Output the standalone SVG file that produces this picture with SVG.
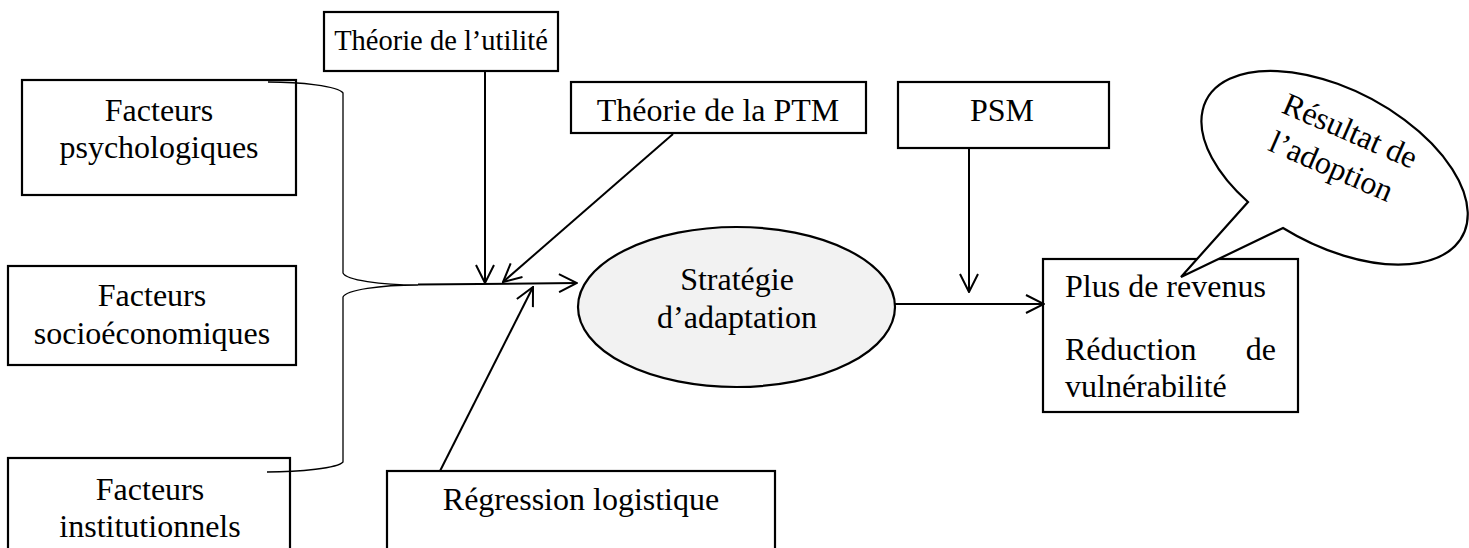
<svg xmlns="http://www.w3.org/2000/svg" width="1469" height="548" viewBox="0 0 1469 548">
<style>
text{font-family:"Liberation Serif","Times New Roman",serif;font-size:32px;fill:#000}
.box{fill:#fff;stroke:#000;stroke-width:2.2}
.c{text-anchor:middle}
.ln{fill:none;stroke:#000;stroke-width:2}
.brace{fill:none;stroke:#000;stroke-width:1.3}
</style>
<defs>
<marker id="arr" viewBox="0 0 20 20" refX="19" refY="10" markerWidth="20" markerHeight="20" markerUnits="userSpaceOnUse" orient="auto">
<path d="M1,1 L19,10 L1,19" fill="none" stroke="#000" stroke-width="2"/>
</marker>
</defs>
<rect width="1469" height="548" fill="#fff"/>
<g id="n-psycho"><rect class="box" x="22" y="80" width="274" height="115"/><text class="c" x="159" y="121">Facteurs</text><text class="c" x="159" y="158">psychologiques</text></g>
<g id="n-socio"><rect class="box" x="8" y="266" width="288" height="99"/><text class="c" x="152" y="306">Facteurs</text><text class="c" x="152" y="344">socioéconomiques</text></g>
<g id="n-instit"><rect class="box" x="8" y="458" width="282" height="110"/><text class="c" x="150" y="500">Facteurs</text><text class="c" x="150" y="537">institutionnels</text></g>
<g id="n-utilite"><rect class="box" x="324" y="12" width="234" height="59"/><text class="c" x="441" y="50" style="font-size:28.5px">Théorie de l’utilité</text></g>
<g id="n-ptm"><rect class="box" x="571" y="82" width="295" height="51"/><text class="c" x="718" y="121">Théorie de la PTM</text></g>
<g id="n-psm"><rect class="box" x="898" y="82" width="211" height="66"/><text class="c" x="1002" y="121">PSM</text></g>
<g id="n-regression"><rect class="box" x="387" y="471" width="388" height="100"/><text class="c" x="581" y="510">Régression logistique</text></g>
<g id="n-strategie"><ellipse cx="736.5" cy="307" rx="158.5" ry="80" fill="#f2f2f2" stroke="#000" stroke-width="2.2"/><text class="c" x="737" y="290">Stratégie</text><text class="c" x="737" y="328">d’adaptation</text></g>
<g id="n-resultats"><rect class="box" x="1043" y="259" width="255" height="153"/><text x="1065" y="297">Plus de revenus</text><text x="1065" y="360">Réduction</text><text x="1276" y="360" text-anchor="end">de</text><text x="1065" y="397">vulnérabilité</text></g>
<g id="n-bulle"><path d="M1248,202 A145 78 28 1 1 1283,228 L1181,277 Z" fill="#fff" stroke="#000" stroke-width="2.2" stroke-linejoin="miter"/><g transform="translate(1336,158) rotate(23.5)"><text class="c" x="2" y="-20">Résultat de</text><text class="c" x="-1" y="20">l’adoption</text></g></g>
<g id="connectors">
<path class="brace" d="M268,82 C300,82 338,86 343,93 L343,273 C346,280 380,285 418,285 C380,285 346,290 343,297 L343,462 C338,468 300,472 267,472"/>
<path class="ln" d="M418,284.5 L577,283" marker-end="url(#arr)"/>
<path class="ln" d="M485,71 L485,283" marker-end="url(#arr)"/>
<path class="ln" d="M673,134 L503,282" marker-end="url(#arr)"/>
<path class="ln" d="M440,471 L533,287" marker-end="url(#arr)"/>
<path class="ln" d="M895,304 L1044,304" marker-end="url(#arr)"/>
<path class="ln" d="M969,148 L969,292" marker-end="url(#arr)"/>
</g>
</svg>
